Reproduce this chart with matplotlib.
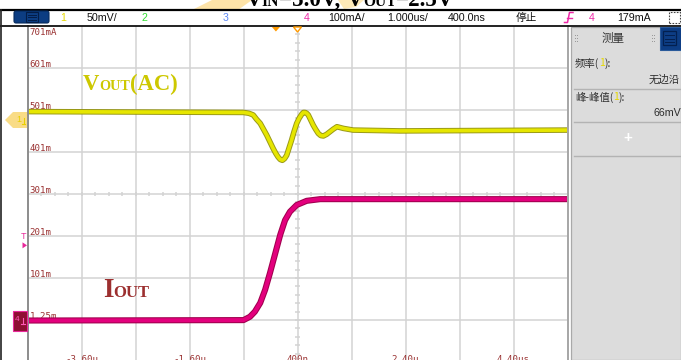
import numpy as np
import matplotlib
matplotlib.use("Agg")
import matplotlib.pyplot as plt
from matplotlib.transforms import IdentityTransform
from matplotlib.patches import Polygon, Rectangle, FancyBboxPatch
from matplotlib.lines import Line2D
from matplotlib.collections import LineCollection

W, H, DPI = 681, 360, 100

# acquisition settings
time_per_div = 1.0      # us / div
delay = 0.4             # us at the screen centre
ch4_per_div = 100.0     # mA / div
ch1_per_div = 50.0      # mV / div
trig_level = 179.0      # mA

# channel 1: output voltage, AC coupled (mV)
t_vout = [-4.6, -0.60, -0.50, -0.42, -0.36, -0.29, -0.23, -0.17, -0.11, -0.05,
          0.0, 0.04, 0.08, 0.12, 0.16, 0.20, 0.245, 0.29, 0.335, 0.385,
          0.43, 0.48, 0.51, 0.54, 0.57, 0.60, 0.645, 0.69, 0.735, 0.785,
          0.83, 0.88, 0.94, 1.00, 1.06, 1.13, 1.25, 1.43, 2.30, 5.4]
vout_ac = [10, 9, 8, 6, 1, -4, -11, -18, -26, -34,
           -40, -44, -47, -48, -46, -42, -33, -24, -14, -4,
           2, 7, 9, 9, 8, 6, 0, -6, -11, -16,
           -18.5, -19, -17, -14, -11, -8, -10, -12, -13, -12]

# channel 4: output current (mA)
t_iout = [-4.6, -0.60, -0.48, -0.39, -0.29, -0.20, -0.11, -0.02, 0.08, 0.17,
          0.26, 0.385, 0.57, 0.82, 5.4]
iout = [0, 1, 9, 21, 42, 73, 113, 156, 204, 239,
        259, 275, 285, 289, 289]

ch4_labels = ["701mA", "601m", "501m", "401m", "301m", "201m", "101m", "1.25m"]
ch4_label_vals = [701.25, 601.25, 501.25, 401.25, 301.25, 201.25, 101.25, 1.25]
time_labels = ["-3.60u", "-1.60u", "400n", "2.40u", "4.40us"]
time_label_vals = [-3.6, -1.6, 0.4, 2.4, 4.4]

SERIF = "Liberation Serif"
SANS = "Liberation Sans"
CJK = ["Noto Sans CJK SC", "DejaVu Sans"]
MONO = "DejaVu Sans Mono"

fig = plt.figure(figsize=(W / DPI, H / DPI), dpi=DPI)
fig.patch.set_facecolor("white")
renderer = fig.canvas.get_renderer()
PX = IdentityTransform()


def fy(y):
    return H - y


def add_patch(p, z=5):
    p.set_transform(PX)
    p.set_zorder(z)
    fig.add_artist(p)
    return p


def add_line(xs, ys, z=6, **kw):
    ln = Line2D(xs, [fy(v) for v in ys], transform=PX, zorder=z, **kw)
    fig.add_artist(ln)
    return ln


def put(x, y, s, z=8, **kw):
    kw.setdefault("va", "center")
    return fig.text(x, fy(y), s, transform=PX, zorder=z, **kw)


def text_run(parts, x, y, centre=False, z=8, **common):
    """Place text pieces one after another on a common baseline."""
    items = []
    cur = x
    for s, size, color in parts:
        t = fig.text(cur, fy(y), s, transform=PX, fontsize=size, color=color,
                     va="baseline", ha="left", zorder=z, **common)
        cur = t.get_window_extent(renderer).x1
        items.append(t)
    if centre:
        shift = (cur - x) / 2.0
        for t in items:
            px, py = t.get_position()
            t.set_position((px - shift, py))
    return items


# ---------------- screen geometry ----------------
X0, X1 = 27.5, 567.5
Y0, DIVY = 26.0, 42.0
Y1 = Y0 + 8 * DIVY

ax = fig.add_axes([X0 / W, 1 - Y1 / H, (X1 - X0) / W, (Y1 - Y0) / H])
xmin, xmax = delay - 5 * time_per_div, delay + 5 * time_per_div
ch4_top = ch4_label_vals[0]
ch4_bot = ch4_top - 8 * ch4_per_div
ax.set_xlim(xmin, xmax)
ax.set_ylim(ch4_bot, ch4_top)
ax.axis("off")
ax.set_facecolor("white")

# channel 1 reference marker sits at this screen row
ch1_ref_px = 120.0
ch1_top = (ch1_ref_px - Y0) / DIVY * ch1_per_div
ax2 = fig.add_axes(ax.get_position(), frameon=False)
ax2.set_xlim(xmin, xmax)
ax2.set_ylim(ch1_top - 8 * ch1_per_div, ch1_top)
ax2.axis("off")

grid_c = "#d3d3d3"
for k in range(1, 10):
    ax.axvline(xmin + k * time_per_div, color=grid_c, lw=1.1, zorder=1)
for k in range(1, 8):
    ax.axhline(ch4_top - k * ch4_per_div, color=grid_c, lw=1.1, zorder=1)

# minor ticks on the centre cross
ycen = ch4_top - 4 * ch4_per_div
segs = []
ma_per_px = ch4_per_div / DIVY
us_per_px = time_per_div / 54.0
for yv in np.arange(ch4_bot, ch4_top, ch4_per_div / 5):
    segs.append([(delay - 2.6 * us_per_px, yv), (delay + 2.6 * us_per_px, yv)])
for xv in np.arange(xmin, xmax, time_per_div / 4):
    segs.append([(xv, ycen - 2.2 * ma_per_px), (xv, ycen + 2.2 * ma_per_px)])
ax.add_collection(LineCollection(segs, colors=grid_c, linewidths=1.1, zorder=1))

# scale labels (channel 4)
lab_c = "#9a3232"
for s, v in zip(ch4_labels, ch4_label_vals):
    if v == ch4_top:
        yv = ch4_top - 9 * ma_per_px
    else:
        yv = v + 1.2 * ma_per_px
    ax.text(xmin + 2.0 * us_per_px, yv, s, fontsize=6.6, family=MONO,
            color=lab_c, va="baseline", ha="left", zorder=3)
for s, v in zip(time_labels, time_label_vals):
    ax.text(v, ch4_top - (361.5 - Y0) * ma_per_px, s, fontsize=6.6,
            family=MONO, color=lab_c, va="baseline", ha="center", zorder=3)

# waveforms
ax.plot(t_iout, iout, color="#a0004e", lw=4.4, zorder=4,
        solid_joinstyle="round", solid_capstyle="butt")
ax.plot(t_iout, iout, color="#e3007d", lw=2.9, zorder=4,
        solid_joinstyle="round", solid_capstyle="butt")
ax2.plot(t_vout, vout_ac, color="#8f8f00", lw=4.0, zorder=4, alpha=0.9,
         solid_joinstyle="round", solid_capstyle="butt")
ax2.plot(t_vout, vout_ac, color="#e6e600", lw=2.6, zorder=4,
         solid_joinstyle="round", solid_capstyle="butt")

# screen borders
add_line([X0, X0], [Y0, H + 2], color="#8c8c8c", lw=1.4, z=6)
add_line([X1, X1], [Y0, H + 2], color="#a6a6a6", lw=1.4, z=6)

# trigger position / delay markers on top edge
tx = X0 + (0.0 - xmin) / time_per_div * 54.0
dx = X0 + (delay - xmin) / time_per_div * 54.0
add_patch(Polygon([(tx - 4, fy(27)), (tx + 4, fy(27)), (tx, fy(31.5))],
                  closed=True, fc="#ff9a00", ec="none"), z=7)
add_patch(Polygon([(dx - 4, fy(27)), (dx + 4, fy(27)), (dx, fy(32))],
                  closed=True, fc="white", ec="#ff9a00", lw=1.0), z=7)

# channel markers on the left edge
add_patch(Polygon([(5, fy(120)), (13, fy(112)), (27, fy(112)), (27, fy(128)),
                   (13, fy(128))], closed=True, fc="#f9dc86", ec="none"), z=7)
put(19, 119, "1", fontsize=6.5, color="#e8d000", family=SANS, ha="center")
add_line([22, 25], [124, 124], color="#e8d000", lw=0.8, z=8)
add_line([23.5, 23.5], [118, 124], color="#e8d000", lw=0.8, z=8)

trig_px = Y0 + (ch4_top - trig_level) / ma_per_px
put(23.5, trig_px - 9, "T", fontsize=6.5, color="#e8289a", family=SANS,
    ha="center")
add_patch(Polygon([(22.5, fy(trig_px - 3)), (22.5, fy(trig_px + 3)),
                   (27, fy(trig_px))], closed=True, fc="#e8289a", ec="none"),
          z=7)

zero_px = Y0 + (ch4_top - 0) / ma_per_px
add_patch(Rectangle((13, fy(zero_px + 10)), 14, 20, fc="#8e0f33",
                    ec="#e8289a", lw=0.8), z=7)
put(17.5, zero_px - 1, "4", fontsize=6.0, color="#ff5ab8", family=SANS,
    ha="center")
add_line([21, 25], [zero_px + 3, zero_px + 3], color="#ff5ab8", lw=0.8, z=8)
add_line([23, 23], [zero_px - 3, zero_px + 3], color="#ff5ab8", lw=0.8, z=8)

# on-screen annotations
vout_c = "#cdc800"
text_run([("V", 16.3, vout_c), ("OUT", 10.3, vout_c), ("(AC)", 16.3, vout_c)],
         83, 90.5, family=SERIF, weight="bold")
iout_c = "#9c2f2f"
text_run([("I", 19.5, iout_c), ("OUT", 12.0, iout_c)],
         103, 297, family=SERIF, weight="bold")

# ---------------- title band ----------------
add_patch(Polygon([(192, fy(10)), (238, fy(10)), (252, fy(0)), (212, fy(0))],
                  closed=True, fc="#fde3a8", ec="none"), z=2)
add_patch(Polygon([(338, fy(0)), (364, fy(0)), (356, fy(7)), (344, fy(9))],
                  closed=True, fc="#fde9b8", ec="none"), z=2)
text_run([("V", 16.6, "black"), ("IN", 11.2, "black"), ("=5.0V, ", 16.6, "black"),
          ("V", 16.6, "black"), ("OUT", 11.2, "black"), ("=2.5V", 16.6, "black")],
         350, 5.5, centre=True, family=SERIF, weight="bold", z=3)

# ---------------- toolbar ----------------
add_line([0, W], [10, 10], color="black", lw=1.6, z=6)
add_line([0, W], [26.2, 26.2], color="#111111", lw=1.3, z=6)
add_line([0.8, 0.8], [10, H], color="#222222", lw=1.2, z=6)

add_patch(FancyBboxPatch((14, fy(23)), 35, 12,
                         boxstyle="round,pad=0,rounding_size=2",
                         fc="#0c3d82", ec="#062a5c", lw=0.8), z=6)
add_patch(Rectangle((26, fy(22)), 12, 10, fc="none", ec="#031d48", lw=0.8), z=7)
for yy in (14.5, 17, 19.5):
    add_line([28, 36], [yy, yy], color="#031d48", lw=0.7, z=7)

bar_y = 17.6
put(63, bar_y, "1", fontsize=7.7, color="#e6d800", family=SANS, ha="center")
put(87, bar_y, "50mV/", fontsize=7.7, color="#111111", family=SANS)
put(144, bar_y, "2", fontsize=7.7, color="#33dd33", family=SANS, ha="center")
put(226, bar_y, "3", fontsize=7.7, color="#5b86f5", family=SANS, ha="center")
put(306.5, bar_y, "4", fontsize=7.7, color="#ee2aa8", family=SANS, ha="center")
put(328, bar_y, "100mA/", fontsize=7.7, color="#111111", family=SANS)
put(387, bar_y, "1.000us/", fontsize=7.7, color="#111111", family=SANS)
put(448, bar_y, "400.0ns", fontsize=7.7, color="#111111", family=SANS)
put(516, bar_y, "停止", fontsize=7.7, color="#111111", family=CJK)
add_line([564.5, 567.5, 569.5, 573], [22.5, 22.5, 12.5, 12.5],
         color="#ee2aa8", lw=1.1, z=7)
add_line([566.5, 571.5], [17.5, 17.5], color="#ee2aa8", lw=1.0, z=7)
put(592, bar_y, "4", fontsize=7.7, color="#ee2aa8", family=SANS, ha="center")
put(617, bar_y, "179mA", fontsize=7.7, color="#111111", family=SANS)
add_patch(Rectangle((669, fy(23)), 11, 11, fc="none", ec="#444444", lw=0.8,
                    ls=(0, (1.5, 1.2))), z=7)

# ---------------- measurement panel ----------------
add_patch(Rectangle((570.5, 0), W - 570.5, fy(27)), z=5).set(fc="#dcdcdc",
                                                              ec="#a9a9a9",
                                                              lw=0.9)
add_patch(Rectangle((659.5, fy(50)), W - 659.5, 23, fc="#0d3d84",
                    ec="#2a5a9a", lw=0.8), z=6)
add_patch(Rectangle((663, fy(45)), 13, 14, fc="none", ec="#032050", lw=0.9),
          z=7)
for yy in (35, 38.5, 42):
    add_line([665, 674], [yy, yy], color="#032050", lw=0.7, z=7)
for gx in (574.5, 651.5):
    for gy in (35.5, 38.5, 41.5):
        for ddx in (0, 2.2):
            add_patch(Rectangle((gx + ddx, fy(gy + 0.6)), 1.0, 1.0,
                                fc="#9a9a9a", ec="none"), z=7)
put(613, 38, "测量", fontsize=8.3, color="#333333", family=CJK, ha="center")

txt_c = "#2e2e2e"
text_run([("频率(", 7.5, txt_c), ("1", 7.5, "#e6d800"), ("):", 7.5, txt_c)],
         575, 66.5, family=CJK)
put(649, 80, "无边沿", fontsize=7.5, color=txt_c, family=CJK)
add_line([574, W], [88.5, 88.5], color="#b3b3b3", lw=1.0, z=7)
text_run([("峰-峰值(", 7.5, txt_c), ("1", 7.5, "#e6d800"), ("):", 7.5, txt_c)],
         575, 100.5, family=CJK)
put(653, 113, "66mV", fontsize=7.7, color=txt_c, family=SANS)
add_line([574, W], [121.5, 121.5], color="#b3b3b3", lw=1.0, z=7)
put(628, 138, "+", fontsize=11, color="white", family=SANS, ha="center",
    weight="bold")
add_line([574, W], [155.5, 155.5], color="#b3b3b3", lw=1.0, z=7)

fig.savefig("out.png", dpi=DPI, facecolor="white")
